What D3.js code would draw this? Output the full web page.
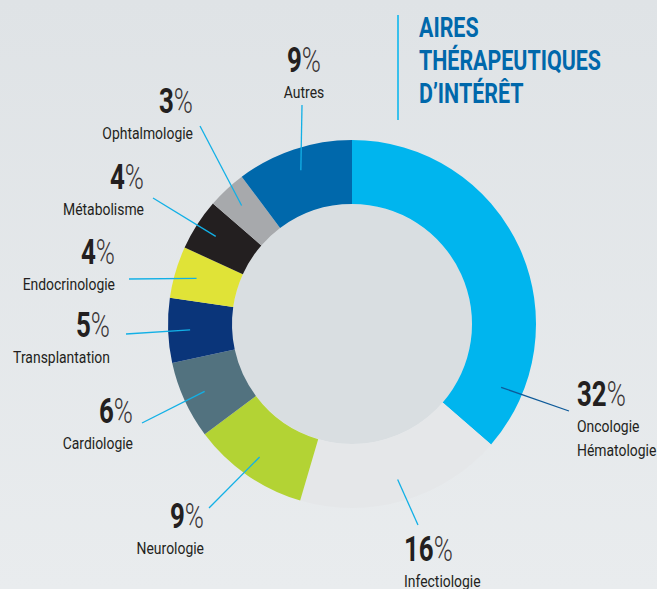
<!DOCTYPE html>
<html>
<head>
<meta charset="utf-8">
<script src="https://cdn.jsdelivr.net/npm/d3@7"></script>
<style>
html,body{margin:0;padding:0;}
body{width:657px;height:589px;overflow:hidden;}
svg{display:block;}
</style>
</head>
<body>
<svg id="chart" width="657" height="589"></svg>
<script>
// ---- data ----
const categories = ["Oncologie\nHématologie","Infectiologie","Neurologie","Cardiologie","Transplantation","Endocrinologie","Métabolisme","Ophtalmologie","Autres"];
const values = [32,16,9,6,5,4,4,3,9];
const colors = ["#00b5ee","#e5e7e9","#b3d334","#52727f","#0a357a","#e0e337","#231f20","#a7a9ac","#0068ab"];
const titleLines = ["AIRES","THÉRAPEUTIQUES","D’INTÉRÊT"];

// ---- layout (label anchors) ----
const labelLayout = [
  {x:577, y:406, anchor:"start", lx:569, ly:411, ang:113, lineColor:"#0e5a99"},
  {x:404, y:561, anchor:"start", lx:418, ly:525},
  {x:204, y:528, anchor:"end",   lx:209, ly:508},
  {x:133, y:423, anchor:"end",   lx:142, ly:423},
  {x:110, y:337, anchor:"end",   lx:126, ly:334},
  {x:115, y:264, anchor:"end",   lx:129, ly:279},
  {x:144, y:189, anchor:"end",   lx:153, ly:198},
  {x:193, y:113, anchor:"end",   lx:200, ly:126},
  {x:304, y:72,  anchor:"middle",lx:302, ly:105}
];

const svg = d3.select("#chart");
const W = 657, H = 589;
const defs = svg.append("defs");
const grad = defs.append("linearGradient").attr("id","bg").attr("x1",0).attr("y1",0).attr("x2",0).attr("y2",1);
grad.append("stop").attr("offset","0%").attr("stop-color","#dfe3e6");
grad.append("stop").attr("offset","100%").attr("stop-color","#e9ecee");
svg.append("rect").attr("width",W).attr("height",H).attr("fill","url(#bg)");

const cx = 352, cy = 324, R = 184, r = 120;
const g = svg.append("g").attr("transform",`translate(${cx},${cy})`);

const pie = d3.pie().sort(null).value(d=>d)(values);
const arc = d3.arc().innerRadius(r).outerRadius(R);

g.append("circle").attr("r",r).attr("fill","#d9dee1");
g.selectAll("path.slice").data(pie).join("path")
  .attr("class","slice")
  .attr("d",arc)
  .attr("fill",(d,i)=>colors[i]);

const font = "Roboto,'Noto Sans',sans-serif";
const SX_NUM = 0.74, SX_LAB = 0.82, SX_TITLE = 0.765;

// leader lines
pie.forEach((d,i)=>{
  const L = labelLayout[i];
  const a = L.ang!==undefined ? L.ang*Math.PI/180 : (d.startAngle+d.endAngle)/2;
  const rr = 162;
  const x1 = cx + rr*Math.sin(a), y1 = cy - rr*Math.cos(a);
  svg.append("line").attr("x1",x1).attr("y1",y1).attr("x2",L.lx).attr("y2",L.ly)
    .attr("stroke",L.lineColor||"#12b0e6").attr("stroke-width",1.3);
});

// labels
pie.forEach((d,i)=>{
  const L = labelLayout[i];
  const t = svg.append("text")
    .attr("transform",`translate(${L.x},${L.y}) scale(${SX_NUM},1)`)
    .attr("text-anchor",L.anchor)
    .attr("font-family",font).attr("fill","#231f20");
  t.append("tspan").attr("font-size",35).attr("font-weight","bold").text(values[i]);
  t.append("tspan").attr("font-size",35).attr("font-weight",300).attr("fill","#3a3536").text("%");
  const lines = categories[i].split("\n");
  lines.forEach((ln,k)=>{
    svg.append("text")
      .attr("transform",`translate(${L.x},${L.y+26+k*24}) scale(${SX_LAB},1)`)
      .attr("text-anchor",L.anchor).attr("font-family",font).attr("font-size",17)
      .attr("fill","#231f20").text(ln);
  });
});

// title
svg.append("line").attr("x1",398).attr("y1",15).attr("x2",398).attr("y2",120)
  .attr("stroke","#00b5ee").attr("stroke-width",1.5);
titleLines.forEach((tl,k)=>{
  svg.append("text")
    .attr("transform",`translate(419,${37+k*33}) scale(${SX_TITLE},1)`)
    .attr("font-family",font).attr("font-weight","bold").attr("font-size",28)
    .attr("fill","#0068ab").text(tl);
});
</script>
</body>
</html>
